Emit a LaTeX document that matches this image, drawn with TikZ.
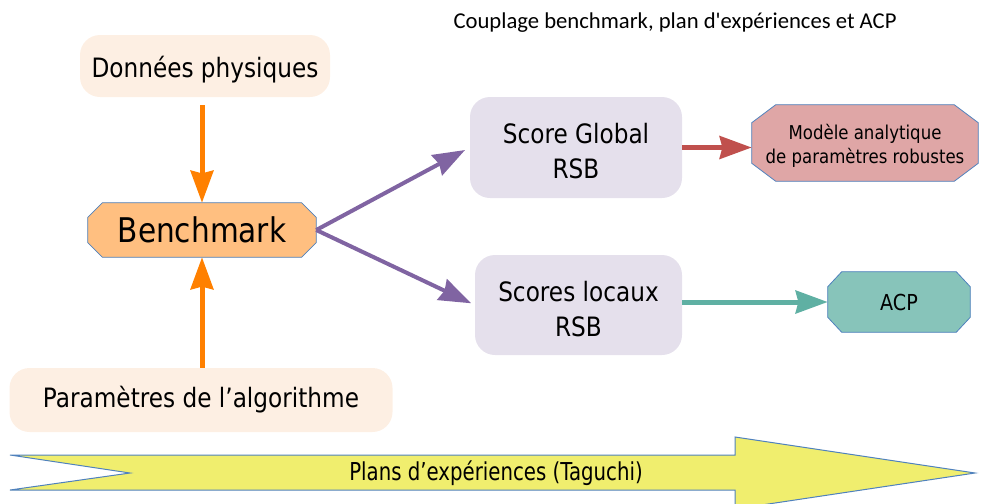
\documentclass[tikz,border=0pt]{standalone}
\usepackage{fontspec}
\setmainfont[FakeStretch=0.87]{DejaVu Sans}
\newfontfamily\titlefont{Carlito}
\newfontfamily\bandfont[FakeStretch=0.8]{DejaVu Sans}
\usetikzlibrary{arrows.meta}

\definecolor{softorange}{HTML}{FDEFE3}
\definecolor{benchorange}{HTML}{FFBF80}
\definecolor{arrorange}{HTML}{FF8000}
\definecolor{edgeblue}{HTML}{4F81BD}
\definecolor{rsbviolet}{HTML}{E5E0EC}
\definecolor{arrviolet}{HTML}{8064A2}
\definecolor{arrred}{HTML}{C0504D}
\definecolor{modred}{HTML}{DFA6A6}
\definecolor{arrteal}{HTML}{5FB0A3}
\definecolor{acpteal}{HTML}{87C4BA}
\definecolor{bandyellow}{HTML}{F0EE6E}

\pgfdeclarelayer{back}
\pgfsetlayers{back,main}

% octogone derriere un noeud : nom, coupe x, coupe y, couleur
\newcommand{\chamfer}[4]{%
  \begin{pgfonlayer}{back}
    \draw[fill=#4, draw=edgeblue, line width=0.6pt]
      ([xshift=#2]#1.north west) -- ([xshift=-#2]#1.north east) -- ([yshift=-#3]#1.north east)
      -- ([yshift=#3]#1.south east) -- ([xshift=-#2]#1.south east) -- ([xshift=#2]#1.south west)
      -- ([yshift=#3]#1.south west) -- ([yshift=-#3]#1.north west) -- cycle;
  \end{pgfonlayer}}

\begin{document}
\begin{tikzpicture}[x=0.75pt, y=-0.75pt,
  every node/.style={inner sep=0pt, align=center, text=black},
  soft/.style={rectangle, rounded corners=15pt, fill=softorange, font=\fontsize{20}{24}\selectfont},
  rsb/.style={rectangle, rounded corners=15pt, fill=rsbviolet, font=\fontsize{20}{26.25}\selectfont},
  ar/.style={-{Stealth[length=24pt,width=17pt,inset=2pt]}, line width=3.75pt}
]
\useasboundingbox (0,0) rectangle (983,504);

% titre
\node[font=\titlefont\fontsize{17}{20}\selectfont] (titre) at (675,23) {Couplage benchmark, plan d'expériences et ACP};

% entrees et benchmark
\node[soft, minimum width=187.5pt, minimum height=46.5pt, text height=16.5pt, text depth=0pt] (don) at (205,66) {Données physiques};
\node[minimum width=171pt, minimum height=40.5pt, font=\fontsize{25.5}{30}\selectfont] (bench) at (202,230) {Benchmark};
\chamfer{bench}{11pt}{11pt}{benchorange}
\node[soft, minimum width=287.25pt, minimum height=48pt] (par) at (201,400) {Paramètres de l’algorithme};

% scores RSB
\node[rsb, minimum width=159pt, minimum height=75.75pt] (sg) at (576,147.5) {\rule{0pt}{21pt}Score Global\\RSB};
\node[rsb, minimum width=155.25pt, minimum height=75pt] (sl) at (578.5,305) {\rule{0pt}{21pt}Scores locaux\\RSB};

% sorties
\node[minimum width=169.5pt, minimum height=57pt, font=\fontsize{14.3}{18}\selectfont] (mod) at (865,143) {\rule{0pt}{15pt}Modèle analytique\\de paramètres robustes};
\chamfer{mod}{18pt}{13.5pt}{modred}
\node[minimum width=106.5pt, minimum height=45pt, font=\fontsize{16.5}{20}\selectfont] (acp) at (899,302) {ACP};
\chamfer{acp}{10.5pt}{11.25pt}{acpteal}

% fleches
\draw[ar, arrorange] (bench.north |- don.south) ++(0,8) -- (bench.north);
\draw[ar, arrorange] (bench.south |- par.north) -- (bench.south);
\draw[ar, arrviolet, line width=3pt, shorten >=4pt] (bench.east) -- (sg.west);
\draw[ar, arrviolet, line width=3pt, shorten >=3pt] (bench.east) -- (sl.west);
\draw[ar, arrred] (sg.east) -- (sg.east -| mod.west);
\draw[ar, arrteal] (sl.east |- acp.west) -- (acp.west);

% bande plans d'experiences
\draw[fill=bandyellow, draw=edgeblue, line width=0.75pt]
  (10,455) -- (735,455) -- (735,437) -- (975,473) -- (735,509) -- (735,490) -- (10,490) -- (130,473) -- cycle;
\node[font=\bandfont\fontsize{18.5}{22}\selectfont] (plans) at (496,473) {Plans d’expériences (Taguchi)};
\end{tikzpicture}
\end{document}
